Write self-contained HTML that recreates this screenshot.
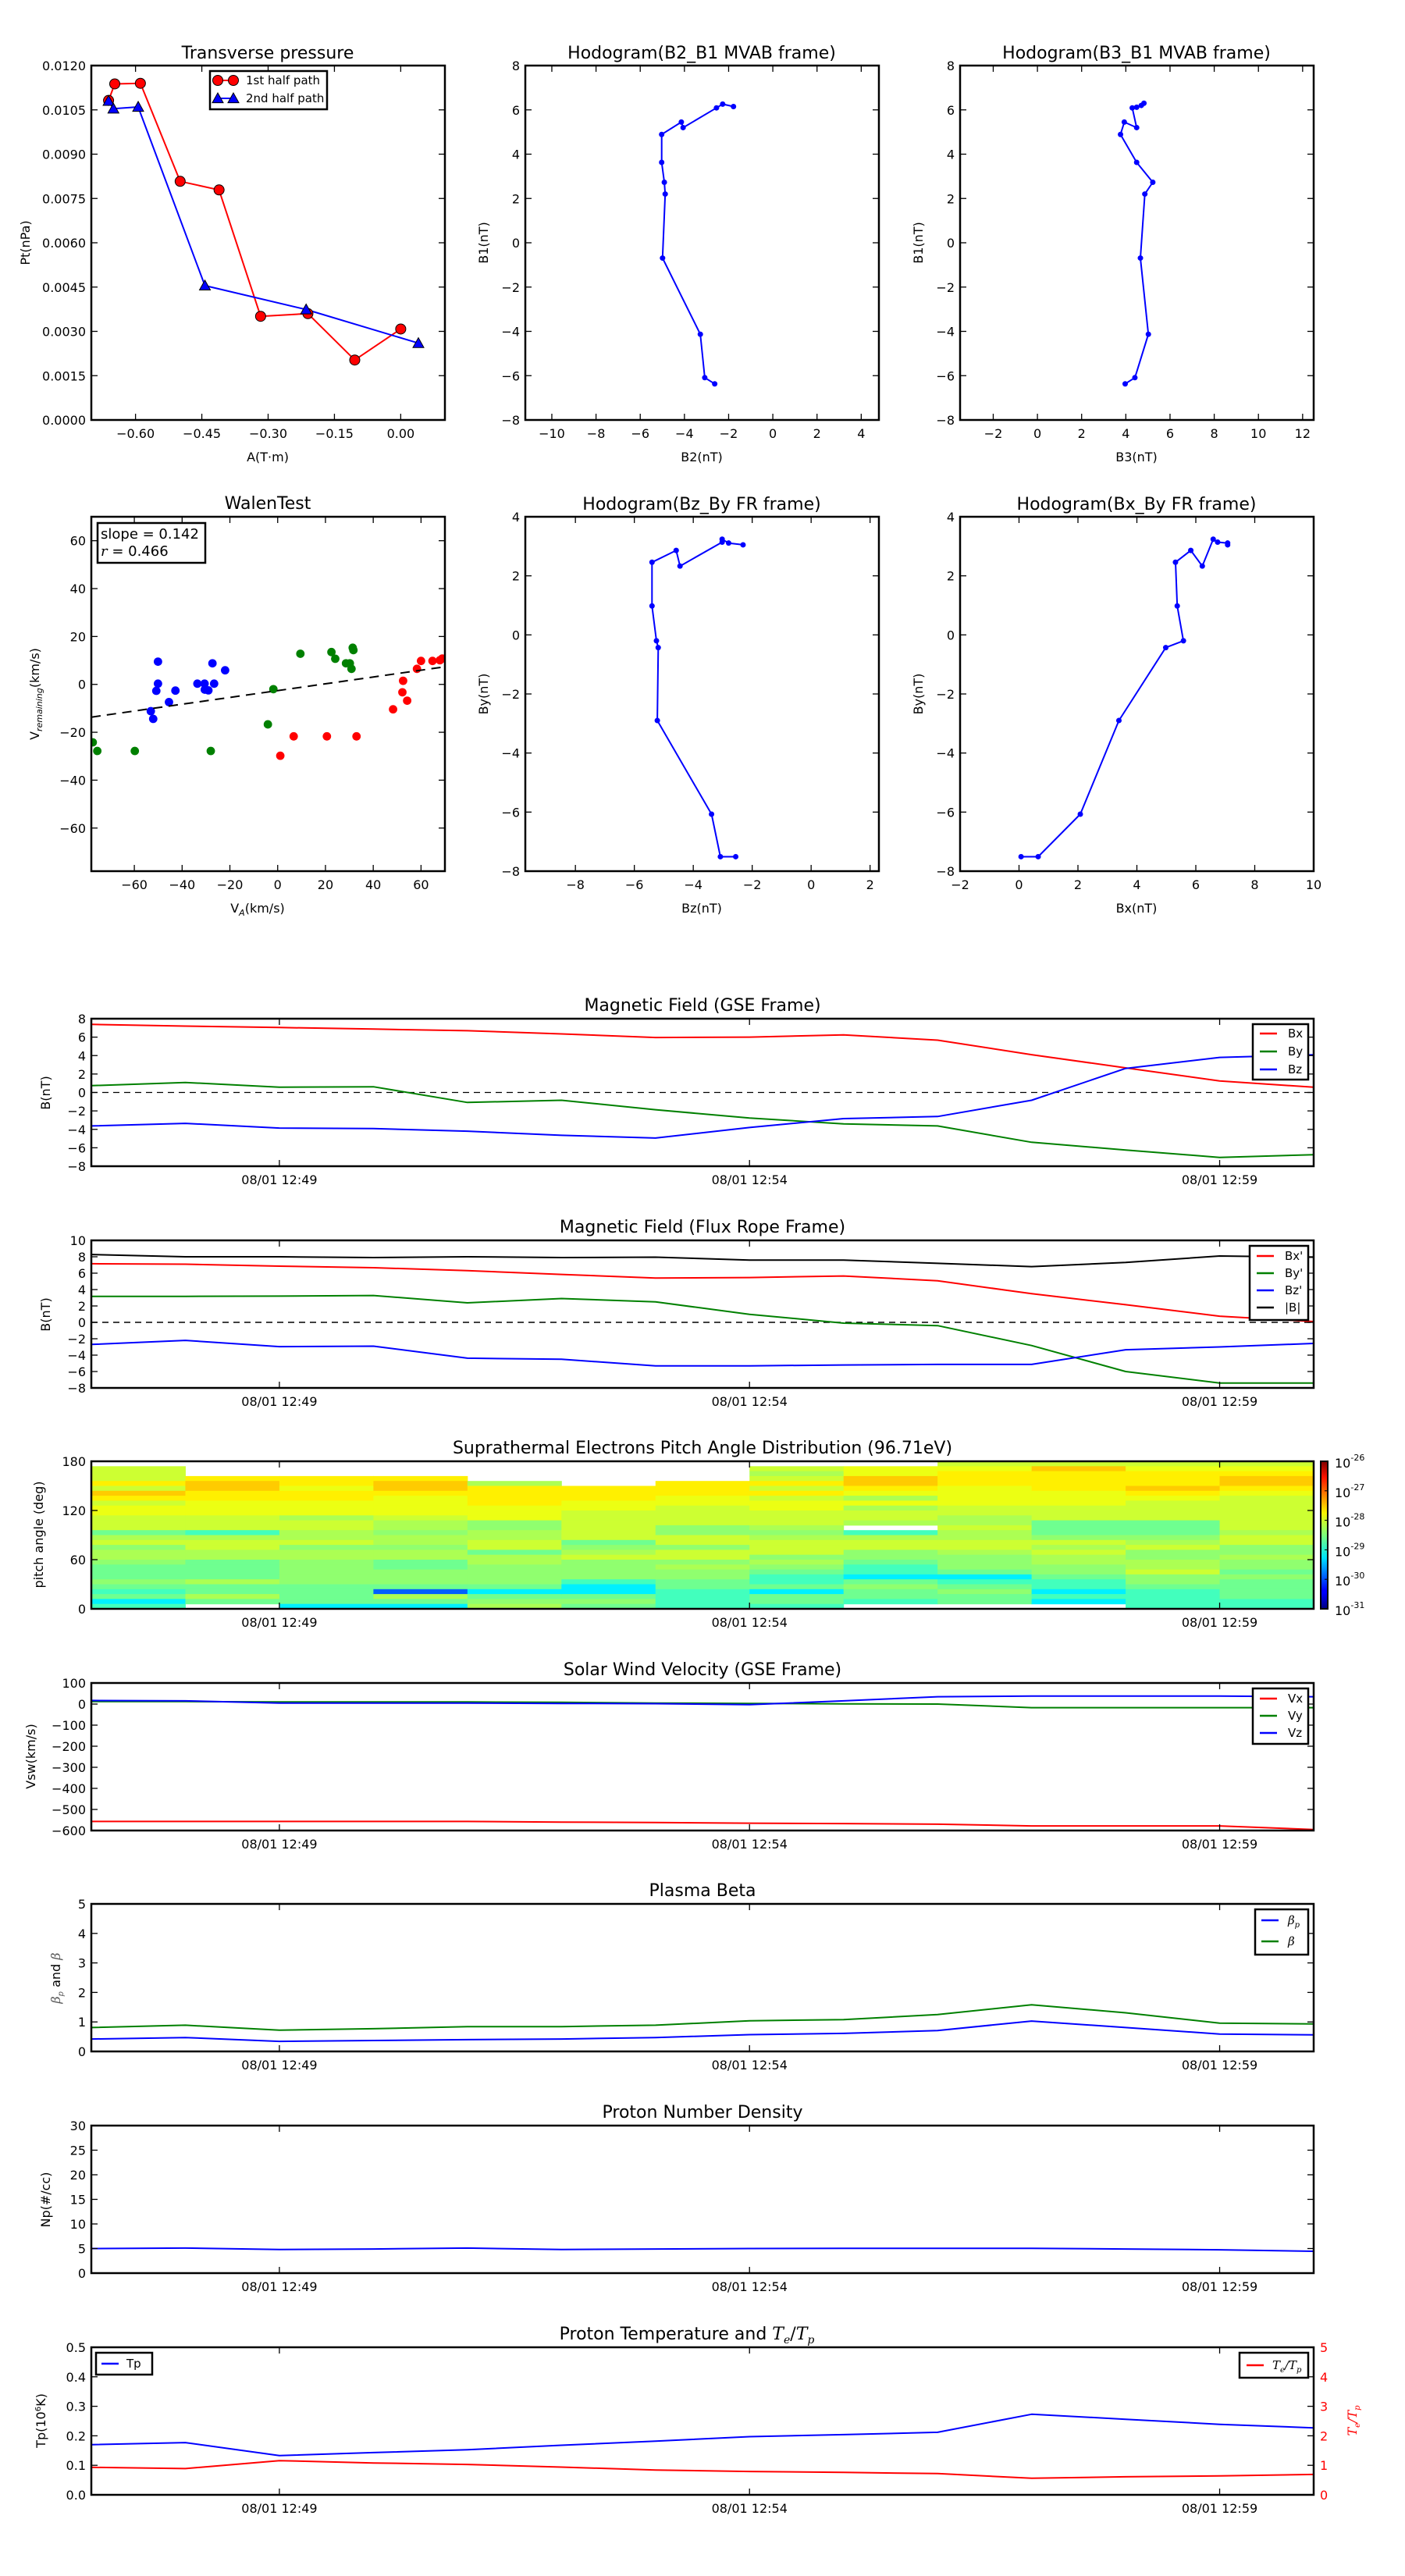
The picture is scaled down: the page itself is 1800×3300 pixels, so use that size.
<!DOCTYPE html>
<html><head><meta charset="utf-8"><title>Flux rope analysis</title>
<style>
html,body{margin:0;padding:0;background:#fff;}
svg{display:block;font-family:"DejaVu Sans","Liberation Sans",sans-serif;}
</style></head>
<body>
<svg id="chart" xmlns="http://www.w3.org/2000/svg" width="1800" height="3300" viewBox="0 0 1800 3300">
<defs>
<linearGradient id="jet" x1="0" y1="1" x2="0" y2="0">
<stop offset="0" stop-color="#00007f"/><stop offset="0.11" stop-color="#0000ff"/><stop offset="0.125" stop-color="#0000ff"/>
<stop offset="0.34" stop-color="#00dcff"/><stop offset="0.35" stop-color="#00e4f8"/><stop offset="0.5" stop-color="#7dff7a"/>
<stop offset="0.65" stop-color="#f8f500"/><stop offset="0.89" stop-color="#ff1300"/><stop offset="1" stop-color="#7f0000"/>
</linearGradient>
</defs>
</svg>
<script>
// ---------------- DATA ----------------
const pt1A = [-0.661, -0.647, -0.589, -0.499, -0.411, -0.317, -0.210, -0.104, 0.000];
const pt1P = [0.01082, 0.01138, 0.0114, 0.00808, 0.00779, 0.00351, 0.0036, 0.00203, 0.00308];
const pt2A = [-0.661, -0.650, -0.594, -0.443, -0.214, 0.040];
const pt2P = [0.0108, 0.01054, 0.0106, 0.00455, 0.00374, 0.0026];
const ptXTicks = [-0.60, -0.45, -0.30, -0.15, 0.00];
const ptYTicks = [0, 0.0015, 0.003, 0.0045, 0.006, 0.0075, 0.009, 0.0105, 0.012];
const h1B2 = [-2.63, -3.08, -3.28, -4.99, -4.87, -4.91, -5.03, -5.03, -4.14, -4.06, -2.55, -2.27, -1.78];
const h1B1 = [-6.37, -6.09, -4.13, -0.69, 2.20, 2.73, 3.63, 4.89, 5.45, 5.20, 6.09, 6.26, 6.15];
const h2B3 = [3.97, 4.41, 5.02, 4.66, 4.86, 5.22, 4.49, 3.76, 3.93, 4.49, 4.29, 4.49, 4.70, 4.82];
const h2B1 = [-6.37, -6.09, -4.13, -0.69, 2.20, 2.73, 3.63, 4.89, 5.45, 5.20, 6.09, 6.12, 6.20, 6.30];
const h3Bz = [-2.56, -3.08, -3.38, -5.22, -5.19, -5.25, -5.40, -5.40, -4.58, -4.45, -3.02, -3.02, -2.80, -2.31];
const h3By = [-7.51, -7.51, -6.07, -2.90, -0.43, -0.20, 0.98, 2.46, 2.86, 2.33, 3.14, 3.24, 3.11, 3.05];
const h4Bx = [0.07, 0.65, 2.08, 3.39, 4.98, 5.58, 5.37, 5.31, 5.83, 6.22, 6.59, 6.74, 7.08, 7.08];
const h4By = [-7.51, -7.51, -6.07, -2.90, -0.43, -0.20, 0.98, 2.46, 2.86, 2.33, 3.24, 3.14, 3.11, 3.05];
const walBlueX = [-50.1, -50.1, -50.8, -42.8, -45.5, -53.1, -52.1, -33.6, -30.6, -30.5, -29.0, -26.6, -27.3, -22.0];
const walBlueY = [9.5, 0.3, -2.7, -2.6, -7.4, -11.2, -14.4, 0.3, 0.3, -2.2, -2.5, 0.3, 8.8, 5.9];
const walGreenX = [-77.4, -75.5, -59.8, -28.0, -4.1, -1.8, 9.5, 22.5, 24.1, 28.6, 30.2, 30.9, 31.4, 31.7];
const walGreenY = [-24.2, -27.8, -27.8, -27.8, -16.7, -2.0, 12.8, 13.5, 10.7, 8.8, 8.8, 6.5, 15.3, 14.3];
const walRedX = [1.1, 6.7, 20.6, 33.0, 48.3, 52.2, 52.5, 54.2, 58.3, 60.0, 64.8, 67.9, 68.9];
const walRedY = [-29.8, -21.7, -21.7, -21.7, -10.4, -3.3, 1.5, -6.8, 6.5, 9.8, 9.8, 10.1, 10.8];
const walSlope = 0.142;
const walIntercept = -2.6;
const walTicks = [-60, -40, -20, 0, 20, 40, 60];
const tMin = [0, 1, 2, 3, 4, 5, 6, 7, 8, 9, 10, 11, 12, 13];
const timeTickMin = [2, 7, 12];
const timeTickLabels = ["08/01 12:49", "08/01 12:54", "08/01 12:59"];
const gseBx = [7.38, 7.2, 7.04, 6.87, 6.7, 6.35, 5.96, 6.0, 6.25, 5.67, 4.1, 2.67, 1.25, 0.57];
const gseBy = [0.74, 1.08, 0.57, 0.62, -1.08, -0.85, -1.87, -2.78, -3.4, -3.63, -5.4, -6.24, -7.04, -6.75];
const gseBz = [-3.63, -3.35, -3.86, -3.92, -4.2, -4.65, -4.94, -3.8, -2.84, -2.61, -0.85, 2.61, 3.8, 4.08];
const frBx = [7.15, 7.1, 6.86, 6.67, 6.3, 5.85, 5.4, 5.47, 5.66, 5.08, 3.5, 2.15, 0.75, 0.1];
const frBy = [3.17, 3.17, 3.2, 3.28, 2.38, 2.9, 2.5, 0.98, -0.1, -0.4, -2.83, -6.0, -7.4, -7.4];
const frBz = [-2.7, -2.2, -2.96, -2.9, -4.37, -4.5, -5.3, -5.3, -5.2, -5.13, -5.13, -3.34, -3.0, -2.57];
const frBt = [8.28, 8.0, 8.0, 7.9, 8.0, 7.9, 7.95, 7.6, 7.6, 7.2, 6.8, 7.3, 8.1, 7.95];
const vx = [-557, -557, -557, -557, -557, -560, -562, -565, -567, -570, -578, -578, -578, -595];
const vy = [12, 12, 10, 10, 10, 8, 5, 3, 1, 0, -17, -17, -17, -17];
const vz = [17, 15, 5, 5, 5, 3, 2, -3, 15, 35, 38, 38, 38, 35];
const betaP = [0.42, 0.47, 0.34, 0.37, 0.40, 0.42, 0.47, 0.57, 0.61, 0.71, 1.03, 0.81, 0.59, 0.56];
const betaT = [0.81, 0.89, 0.72, 0.77, 0.84, 0.84, 0.89, 1.04, 1.08, 1.25, 1.58, 1.31, 0.96, 0.93];
const np = [5.0, 5.1, 4.8, 4.9, 5.1, 4.8, 4.9, 5.0, 5.05, 5.05, 5.05, 4.9, 4.75, 4.45];
const tp = [0.170, 0.177, 0.133, 0.143, 0.153, 0.168, 0.182, 0.197, 0.204, 0.212, 0.273, 0.256, 0.239, 0.227];
const teTp = [0.93, 0.89, 1.16, 1.08, 1.03, 0.94, 0.84, 0.79, 0.76, 0.72, 0.56, 0.61, 0.64, 0.69];
const padCodes = {"B": -29.9, "C": -29.2, "t": -28.8, "a": -28.58, "g": -28.42, "l": -28.28, "y": -28.12, "Y": -27.97, "o": -27.8, "O": -27.62};
const padColumns = [
  "-yyyoyOoyYYyyyalygllgaaagataCt",
  "---oOOooYYYyyytlyyllaaaalaala-",
  "---ooYooYYYlyyllygllgggggaaaaC",
  "---oOOoYYYYyllgllgllaagggaBlaC",
  "----looooYYYggllyyallggggaCagl",
  "-----oooYYyyyyyyaglyggggtCCaga",
  "----oooYYyyyyggyygyyglggaatttt",
  "-ylyoyoyYYyyylglyyyglgattaCaat",
  "-YYOOoYlYlyyl-tlyyggattCagaat-",
  "yYoooYYYYyyllyllyylgggaCtagaa-",
  "yOooooYYYyyyaaagylyllggattCtC-",
  "yYoooOoYyyyyaaaglyggllyggatttt",
  "yYoOOoYyyyyyyylyygglggagaaaatt"
];
const padTicks = [0, 60, 120, 180];
const cbarExp = [-26, -27, -28, -29, -30, -31];

// ---------------- DRAWING ----------------
const NS = "http://www.w3.org/2000/svg";
const svg = document.getElementById('chart');
const TL = 8;
let clipId = 0;

function mk(tag, attrs, parent) {
  const e = document.createElementNS(NS, tag);
  for (const k in attrs) e.setAttribute(k, attrs[k]);
  (parent || svg).appendChild(e);
  return e;
}
function txt(str, x, y, o, name, parent) {
  const t = mk('text', {x: x, y: y, 'font-size': o.size || 16, 'text-anchor': o.anchor || 'middle', fill: o.fill || '#000'}, parent);
  if (o.rot) t.setAttribute('transform', 'rotate(-90 ' + x + ' ' + y + ')');
  if (o.italic) t.setAttribute('font-style', 'italic');
  if (o.family) t.setAttribute('font-family', o.family);
  t.textContent = str;
  
  
  return t;
}
function makeAxes(name, x0, y0, w, h, xmin, xmax, ymin, ymax) {
  const g = mk('g', {});
  
  
  clipId++;
  const cp = mk('clipPath', {id: 'cp' + clipId}, g);
  mk('rect', {x: x0, y: y0, width: w, height: h}, cp);
  const data = mk('g', {'clip-path': 'url(#cp' + clipId + ')'}, g);
  
  
  return {g: g, data: data, x0: x0, y0: y0, w: w, h: h,
    X: v => x0 + (v - xmin) / (xmax - xmin) * w,
    Y: v => y0 + h - (v - ymin) / (ymax - ymin) * h};
}
function frame(ax) {
  const r = mk('rect', {x: ax.x0, y: ax.y0, width: ax.w, height: ax.h, fill: 'none', stroke: '#000', 'stroke-width': 2.5}, ax.g);
  
  
}
function yTicks(ax, vals, fmt, opts) {
  opts = opts || {};
  vals.forEach(v => {
    const y = ax.Y(v);
    if (!opts.noLeft) {
      const l = mk('line', {x1: ax.x0, x2: ax.x0 + TL, y1: y, y2: y, stroke: '#000', 'stroke-width': 1.3}, ax.g);
      
      
    }
    if (!opts.noRight) {
      const r = mk('line', {x1: ax.x0 + ax.w, x2: ax.x0 + ax.w - TL, y1: y, y2: y, stroke: '#000', 'stroke-width': 1.3}, ax.g);
      
      
    }
    if (opts.right) txt(fmt(v), ax.x0 + ax.w + 8, y + 6, {anchor: 'start', fill: opts.fill || '#000'}, 'y-tick-label', ax.g);
    else txt(fmt(v), ax.x0 - 7, y + 6, {anchor: 'end'}, 'y-tick-label', ax.g);
  });
}
function xTicks(ax, vals, labels, dy) {
  vals.forEach((v, i) => {
    const x = ax.X(v);
    const b = mk('line', {x1: x, x2: x, y1: ax.y0 + ax.h, y2: ax.y0 + ax.h - TL, stroke: '#000', 'stroke-width': 1.3}, ax.g);
    
    
    const t = mk('line', {x1: x, x2: x, y1: ax.y0, y2: ax.y0 + TL, stroke: '#000', 'stroke-width': 1.3}, ax.g);
    
    
    txt(labels[i], x, ax.y0 + ax.h + (dy || 23), {}, 'x-tick-label', ax.g);
  });
}
function poly(ax, xs, ys, color, name, width, dash) {
  const pts = xs.map((x, i) => ax.X(x).toFixed(1) + ',' + ax.Y(ys[i]).toFixed(1)).join(' ');
  const p = mk('polyline', {points: pts, fill: 'none', stroke: color, 'stroke-width': width || 2, 'stroke-linejoin': 'round'}, ax.data);
  if (dash) p.setAttribute('stroke-dasharray', dash);
  
  
  return p;
}
function dots(ax, xs, ys, color, r, name, stroke) {
  xs.forEach((x, i) => {
    const c = mk('circle', {cx: ax.X(x), cy: ax.Y(ys[i]), r: r, fill: color}, ax.data);
    if (stroke) { c.setAttribute('stroke', '#000'); c.setAttribute('stroke-width', 1); }
    
    
  });
}
function tri(parent, x, y, s) {
  return mk('polygon', {points: x + ',' + (y - s) + ' ' + (x - s) + ',' + (y + s * 0.8) + ' ' + (x + s) + ',' + (y + s * 0.8), fill: '#0000ff', stroke: '#000', 'stroke-width': 1}, parent);
}
function legend(parent, x, y, w, h, entries, name) {
  const g = mk('g', {}, parent);
  
  
  const r = mk('rect', {x: x, y: y, width: w, height: h, fill: '#fff', stroke: '#000', 'stroke-width': 2.5}, g);
  
  
  entries.forEach(e => {
    const l = mk('line', {x1: e.lx, x2: e.lx + 22, y1: e.y, y2: e.y, stroke: e.color, 'stroke-width': 2.5}, g);
    
    
    const t = txt(e.label, e.tx, e.y + 5, {anchor: 'start', size: 15, italic: e.italic, family: e.family}, 'legend-label', g);
    if (e.sub) {
      const s = mk('tspan', {'font-size': 10, dy: 4}, t);
      s.textContent = e.sub;
    }
    if (e.rest) {
      const s2 = mk('tspan', {dy: -4}, t);
      s2.textContent = e.rest;
      const s3 = mk('tspan', {'font-size': 10, dy: 4}, t);
      s3.textContent = e.sub2;
    }
  });
  return g;
}
function title(str, cx, y, name) { return txt(str, cx, y, {size: 22}, name); }

// ---------- Panel 1 ----------
(function () {
  const ax = makeAxes('transverse-pressure-panel', 117, 84, 453, 454, -0.70, 0.10, 0, 0.012);
  poly(ax, pt1A, pt1P, '#ff0000', 'first-half-path-line');
  poly(ax, pt2A, pt2P, '#0000ff', 'second-half-path-line');
  dots(ax, pt1A, pt1P, '#ff0000', 6.5, 'first-half-path-marker', true);
  pt2A.forEach((a, i) => {
    const t = tri(ax.data, ax.X(a), ax.Y(pt2P[i]), 7);
    
    
  });
  yTicks(ax, ptYTicks, v => v.toFixed(4));
  xTicks(ax, ptXTicks, ptXTicks.map(v => (v < 0 ? '\u2212' + Math.abs(v).toFixed(2) : v.toFixed(2))), 23);
  frame(ax);
  const lg = legend(ax.g, 269, 91, 150, 49, [], 'pressure-legend');
  const l1 = mk('line', {x1: 279, x2: 299, y1: 103, y2: 103, stroke: '#ff0000', 'stroke-width': 2}, lg);
  
  const c1 = mk('circle', {cx: 279, cy: 103, r: 6.5, fill: '#ff0000', stroke: '#000'}, lg);
  
  const c2 = mk('circle', {cx: 299, cy: 103, r: 6.5, fill: '#ff0000', stroke: '#000'}, lg);
  
  txt('1st half path', 315, 108, {anchor: 'start', size: 15}, 'legend-label', lg);
  const l2 = mk('line', {x1: 279, x2: 299, y1: 126, y2: 126, stroke: '#0000ff', 'stroke-width': 2}, lg);
  
  const t1 = tri(lg, 279, 126, 7);
  
  const t2 = tri(lg, 299, 126, 7);
  
  txt('2nd half path', 315, 131, {anchor: 'start', size: 15}, 'legend-label', lg);
  title('Transverse pressure', 343, 75, 'pressure-title');
  txt('A(T\u00b7m)', 343, 591, {}, 'pressure-x-axis-title');
  txt('Pt(nPa)', 38, 311, {rot: true}, 'pressure-y-axis-title');
})();

// ---------- Hodograms ----------
function hodo(name, x0, y0, xmin, xmax, ymin, ymax, xs, ys, xt, yt, ttl, xl, yl) {
  const ax = makeAxes(name, x0, y0, 453, 454, xmin, xmax, ymin, ymax);
  poly(ax, xs, ys, '#0000ff', name + '-line');
  dots(ax, xs, ys, '#0000ff', 3.5, name + '-point');
  yTicks(ax, yt, v => (v < 0 ? '\u2212' + Math.abs(v) : '' + v));
  xTicks(ax, xt, xt.map(v => (v < 0 ? '\u2212' + Math.abs(v) : '' + v)), 23);
  frame(ax);
  title(ttl, x0 + 226, y0 - 9, name + '-title');
  txt(xl, x0 + 226, y0 + 454 + 53, {}, name + '-x-axis-title');
  txt(yl, x0 - 48, y0 + 227, {rot: true}, name + '-y-axis-title');
}
const ev = (a, b) => { const r = []; for (let v = a; v <= b; v += 2) r.push(v); return r; };
hodo('hodogram-b2-b1', 673, 84, -11.2, 4.8, -8, 8, h1B2, h1B1, ev(-10, 4), ev(-8, 8), 'Hodogram(B2_B1 MVAB frame)', 'B2(nT)', 'B1(nT)');
hodo('hodogram-b3-b1', 1230, 84, -3.5, 12.5, -8, 8, h2B3, h2B1, ev(-2, 12), ev(-8, 8), 'Hodogram(B3_B1 MVAB frame)', 'B3(nT)', 'B1(nT)');
hodo('hodogram-bz-by', 673, 662, -9.7, 2.3, -8, 4, h3Bz, h3By, ev(-8, 2), ev(-8, 4), 'Hodogram(Bz_By FR frame)', 'Bz(nT)', 'By(nT)');
hodo('hodogram-bx-by', 1230, 662, -2, 10, -8, 4, h4Bx, h4By, ev(-2, 10), ev(-8, 4), 'Hodogram(Bx_By FR frame)', 'Bx(nT)', 'By(nT)');

// ---------- Walen test ----------
(function () {
  const ax = makeAxes('walen-test-panel', 117, 662, 453, 454, -78, 70, -78, 70);
  dots(ax, walBlueX, walBlueY, '#0000ff', 5.4, 'walen-point-blue');
  dots(ax, walGreenX, walGreenY, '#008000', 5.4, 'walen-point-green');
  dots(ax, walRedX, walRedY, '#ff0000', 5.4, 'walen-point-red');
  poly(ax, [-78, 70], [-78 * walSlope + walIntercept, 70 * walSlope + walIntercept], '#000', 'walen-fit-line', 2, '12,8');
  const fmt = v => (v < 0 ? '\u2212' + Math.abs(v) : '' + v);
  yTicks(ax, walTicks, fmt);
  xTicks(ax, walTicks, walTicks.map(fmt), 23);
  frame(ax);
  const b = mk('rect', {x: 125, y: 670, width: 138, height: 51, fill: '#fff', stroke: '#000', 'stroke-width': 2.5}, ax.g);
  
  
  txt('slope = 0.142', 129, 690, {anchor: 'start', size: 18}, 'walen-slope-label', ax.g);
  const r = txt('', 129, 712, {anchor: 'start', size: 18}, 'walen-r-label', ax.g);
  const ri = mk('tspan', {'font-style': 'italic', 'font-family': '"DejaVu Serif",serif'}, r); ri.textContent = 'r';
  const rr = mk('tspan', {}, r); rr.textContent = ' = 0.466';
  title('WalenTest', 343, 652, 'walen-title');
  const xl = txt('V', 330, 1169, {}, 'walen-x-axis-title');
  const xs = mk('tspan', {'font-size': 11, 'font-style': 'italic', dy: 4}, xl); xs.textContent = 'A';
  const xr = mk('tspan', {dy: -4}, xl); xr.textContent = '(km/s)';
  const yl = txt('V', 50, 889, {rot: true}, 'walen-y-axis-title');
  const ys = mk('tspan', {'font-size': 11, 'font-style': 'italic', dy: 4}, yl); ys.textContent = 'remaining';
  const yr = mk('tspan', {dy: -4}, yl); yr.textContent = '(km/s)';
})();

// ---------- Time series ----------
const TSX = 117, TSW = 1566, TSH = 189;
function tsPanel(name, top, ymin, ymax) { return makeAxes(name, TSX, top, TSW, TSH, 0, 13, ymin, ymax); }
function timeAxis(ax) { xTicks(ax, timeTickMin, timeTickLabels, 23); }
const sgn = v => (v < 0 ? '\u2212' + Math.abs(v) : '' + v);

(function () {
  const ax = tsPanel('magnetic-field-gse-panel', 1305, -8, 8);
  poly(ax, [0, 13], [0, 0], '#000', 'zero-line', 1.2, '8,6');
  poly(ax, tMin, gseBx, '#ff0000', 'gse-bx-line');
  poly(ax, tMin, gseBy, '#008000', 'gse-by-line');
  poly(ax, tMin, gseBz, '#0000ff', 'gse-bz-line');
  yTicks(ax, ev(-8, 8), sgn);
  timeAxis(ax);
  frame(ax);
  legend(ax.g, 1605, 1312, 71, 71, [
    {lx: 1614, tx: 1650, y: 1324, color: '#ff0000', label: 'Bx'},
    {lx: 1614, tx: 1650, y: 1347, color: '#008000', label: 'By'},
    {lx: 1614, tx: 1650, y: 1370, color: '#0000ff', label: 'Bz'}], 'gse-legend');
  title('Magnetic Field (GSE Frame)', 900, 1295, 'gse-title');
  txt('B(nT)', 64, 1400, {rot: true}, 'gse-y-axis-title');
})();

(function () {
  const ax = tsPanel('magnetic-field-flux-rope-panel', 1589, -8, 10);
  poly(ax, [0, 13], [0, 0], '#000', 'zero-line', 1.6, '8,6');
  poly(ax, tMin, frBx, '#ff0000', 'fr-bx-line');
  poly(ax, tMin, frBy, '#008000', 'fr-by-line');
  poly(ax, tMin, frBz, '#0000ff', 'fr-bz-line');
  poly(ax, tMin, frBt, '#000000', 'fr-btotal-line');
  yTicks(ax, ev(-8, 10), sgn);
  timeAxis(ax);
  frame(ax);
  legend(ax.g, 1601, 1596, 75, 95, [
    {lx: 1610, tx: 1646, y: 1609, color: '#ff0000', label: "Bx'"},
    {lx: 1610, tx: 1646, y: 1631, color: '#008000', label: "By'"},
    {lx: 1610, tx: 1646, y: 1653, color: '#0000ff', label: "Bz'"},
    {lx: 1610, tx: 1646, y: 1675, color: '#000000', label: '|B|'}], 'fr-legend');
  title('Magnetic Field (Flux Rope Frame)', 900, 1579, 'fr-title');
  txt('B(nT)', 64, 1684, {rot: true}, 'fr-y-axis-title');
})();

function jet(v) {
  const t = Math.max(0, Math.min(1, (v + 31) / 5));
  const c = x => Math.round(255 * Math.max(0, Math.min(1, x)));
  return 'rgb(' + c(1.5 - Math.abs(4 * t - 3)) + ',' + c(1.5 - Math.abs(4 * t - 2)) + ',' + c(1.5 - Math.abs(4 * t - 1)) + ')';
}
(function () {
  const ax = makeAxes('pitch-angle-panel', TSX, 1872, TSW, TSH, 0, 13, 0, 180);
  padColumns.forEach((col, ci) => {
    for (let ri = 0; ri < col.length && ri < 30; ri++) {
      const ch = col[ri];
      if (!(ch in padCodes)) continue;
      const hi = 180 - ri * 6, lo = hi - 6;
      const x1 = ax.X(tMin[ci]), x2 = ax.X(tMin[ci + 1]);
      const cell = mk('rect', {x: x1, y: ax.Y(hi), width: x2 - x1 + 0.5, height: ax.Y(lo) - ax.Y(hi) + 0.5, fill: jet(padCodes[ch])}, ax.data);
      
      
    }
  });
  yTicks(ax, padTicks, v => '' + v);
  timeAxis(ax);
  frame(ax);
  title('Suprathermal Electrons Pitch Angle Distribution (96.71eV)', 900, 1862, 'pad-title');
  txt('pitch angle (deg)', 55, 1966, {rot: true}, 'pad-y-axis-title');
  const cb = mk('rect', {x: 1692, y: 1872, width: 9, height: 189, fill: 'url(#jet)', stroke: '#000', 'stroke-width': 2}, svg);
  
  
  cbarExp.forEach((e, i) => {
    const y = 1872 + i * 189 / 5;
    const tk = mk('line', {x1: 1697, x2: 1701, y1: y, y2: y, stroke: '#000', 'stroke-width': 1});
    
    
    const t = txt('10', 1710, y + 8, {anchor: 'start', size: 16}, 'colorbar-tick-label');
    const s = mk('tspan', {'font-size': 11, dy: -9}, t);
    s.textContent = '' + e;
  });
})();

(function () {
  const ax = tsPanel('solar-wind-velocity-panel', 2156, -600, 100);
  poly(ax, tMin, vx, '#ff0000', 'vx-line');
  poly(ax, tMin, vy, '#008000', 'vy-line');
  poly(ax, tMin, vz, '#0000ff', 'vz-line');
  const vt = []; for (let v = -600; v <= 100; v += 100) vt.push(v);
  yTicks(ax, vt, sgn);
  timeAxis(ax);
  frame(ax);
  legend(ax.g, 1605, 2163, 71, 71, [
    {lx: 1614, tx: 1650, y: 2176, color: '#ff0000', label: 'Vx'},
    {lx: 1614, tx: 1650, y: 2198, color: '#008000', label: 'Vy'},
    {lx: 1614, tx: 1650, y: 2220, color: '#0000ff', label: 'Vz'}], 'velocity-legend');
  title('Solar Wind Velocity (GSE Frame)', 900, 2146, 'velocity-title');
  txt('Vsw(km/s)', 45, 2250, {rot: true}, 'velocity-y-axis-title');
})();

(function () {
  const ax = tsPanel('plasma-beta-panel', 2439, 0, 5);
  poly(ax, tMin, betaP, '#0000ff', 'beta-p-line');
  poly(ax, tMin, betaT, '#008000', 'beta-line');
  yTicks(ax, [0, 1, 2, 3, 4, 5], v => '' + v);
  timeAxis(ax);
  frame(ax);
  legend(ax.g, 1608, 2446, 68, 58, [
    {lx: 1616, tx: 1650, y: 2460, color: '#0000ff', label: '\u03b2', sub: 'p', italic: true, family: '"DejaVu Serif",serif'},
    {lx: 1616, tx: 1650, y: 2487, color: '#008000', label: '\u03b2', italic: true, family: '"DejaVu Serif",serif'}], 'beta-legend');
  title('Plasma Beta', 900, 2429, 'beta-title');
  const yl = txt('', 77, 2534, {rot: true, size: 16}, 'beta-y-axis-title');
  const a = mk('tspan', {'font-style': 'italic', 'font-family': '"DejaVu Serif",serif', fill: '#555'}, yl); a.textContent = '\u03b2';
  const b = mk('tspan', {'font-size': 10, dy: 4, 'font-style': 'italic', fill: '#555'}, yl); b.textContent = 'p';
  const c = mk('tspan', {dy: -4}, yl); c.textContent = ' and ';
  const d = mk('tspan', {'font-style': 'italic', 'font-family': '"DejaVu Serif",serif', fill: '#555'}, yl); d.textContent = '\u03b2';
})();

(function () {
  const ax = tsPanel('proton-density-panel', 2723, 0, 30);
  poly(ax, tMin, np, '#0000ff', 'density-line');
  yTicks(ax, [0, 5, 10, 15, 20, 25, 30], v => '' + v);
  timeAxis(ax);
  frame(ax);
  title('Proton Number Density', 900, 2713, 'density-title');
  txt('Np(#/cc)', 64, 2818, {rot: true}, 'density-y-axis-title');
})();

(function () {
  const ax = tsPanel('proton-temperature-panel', 3007, 0, 0.5);
  poly(ax, tMin, tp, '#0000ff', 'tp-line');
  const ax2 = {X: ax.X, Y: v => ax.y0 + ax.h - v / 5 * ax.h, x0: ax.x0, y0: ax.y0, w: ax.w, h: ax.h, g: ax.g, data: ax.data};
  poly(ax2, tMin, teTp, '#ff0000', 'te-tp-line');
  yTicks(ax, [0, 0.1, 0.2, 0.3, 0.4, 0.5], v => v.toFixed(1), {noRight: true});
  yTicks(ax2, [0, 1, 2, 3, 4, 5], v => '' + v, {noLeft: true, right: true, fill: '#ff0000'});
  timeAxis(ax);
  frame(ax);
  legend(ax.g, 123, 3014, 72, 28, [{lx: 130, tx: 162, y: 3028, color: '#0000ff', label: 'Tp'}], 'tp-legend');
  legend(ax.g, 1588, 3014, 88, 32, [{lx: 1597, tx: 1630, y: 3030, color: '#ff0000', label: 'T', sub: 'e', rest: '/T', sub2: 'p', italic: true, family: '"DejaVu Serif",serif'}], 'te-tp-legend');
  const tt = title('Proton Temperature and ', 880, 2997, 'temperature-title');
  const m1 = mk('tspan', {'font-style': 'italic', 'font-family': '"DejaVu Serif",serif'}, tt); m1.textContent = 'T';
  const m2 = mk('tspan', {'font-size': 14, dy: 5, 'font-style': 'italic', 'font-family': '"DejaVu Serif",serif'}, tt); m2.textContent = 'e';
  const m3 = mk('tspan', {dy: -5, 'font-family': '"DejaVu Serif",serif'}, tt); m3.textContent = '/';
  const m4 = mk('tspan', {'font-style': 'italic', 'font-family': '"DejaVu Serif",serif'}, tt); m4.textContent = 'T';
  const m5 = mk('tspan', {'font-size': 14, dy: 5, 'font-style': 'italic', 'font-family': '"DejaVu Serif",serif'}, tt); m5.textContent = 'p';
  const yl = txt('Tp(10', 58, 3101, {rot: true}, 'temperature-y-axis-title');
  const s = mk('tspan', {'font-size': 10, dy: -6}, yl); s.textContent = '6';
  const s2 = mk('tspan', {dy: 6}, yl); s2.textContent = 'K)';
  const ry = txt('', 1738, 3101, {rot: true, fill: '#ff0000', size: 16, italic: true, family: '"DejaVu Serif",serif'}, 'te-tp-axis-title');
  const r1 = mk('tspan', {}, ry); r1.textContent = 'T';
  const r2 = mk('tspan', {'font-size': 10, dy: 4}, ry); r2.textContent = 'e';
  const r3 = mk('tspan', {dy: -4}, ry); r3.textContent = '/T';
  const r4 = mk('tspan', {'font-size': 10, dy: 4}, ry); r4.textContent = 'p';
})();
</script>
</body></html>
